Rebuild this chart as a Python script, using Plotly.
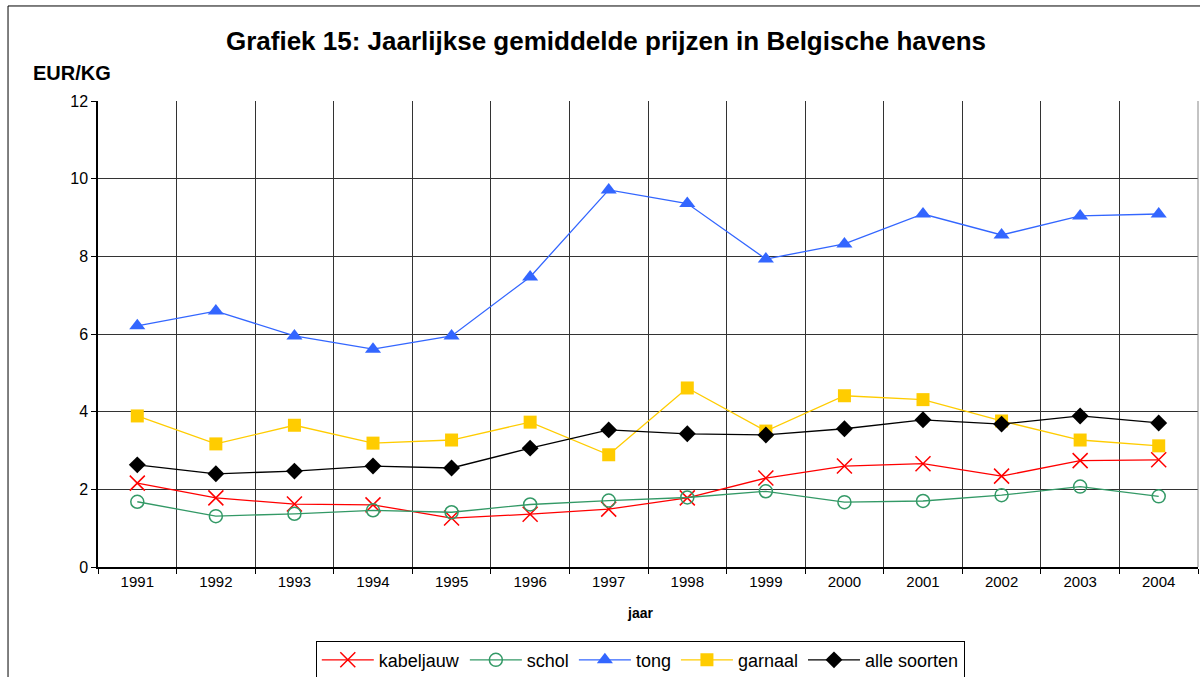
import plotly.graph_objects as go

years = [1991, 1992, 1993, 1994, 1995, 1996, 1997, 1998, 1999, 2000, 2001, 2002, 2003, 2004]
kabeljauw = [2.16, 1.78, 1.62, 1.60, 1.26, 1.36, 1.49, 1.78, 2.29, 2.60, 2.66, 2.34, 2.74, 2.76]
schol = [1.68, 1.31, 1.37, 1.46, 1.41, 1.61, 1.71, 1.79, 1.95, 1.67, 1.70, 1.85, 2.07, 1.82]
tong = [6.21, 6.59, 5.95, 5.61, 5.95, 7.47, 9.71, 9.36, 7.93, 8.32, 9.09, 8.55, 9.04, 9.09]
garnaal = [3.89, 3.17, 3.65, 3.19, 3.27, 3.73, 2.89, 4.61, 3.50, 4.41, 4.31, 3.76, 3.27, 3.12]
alle_soorten = [2.63, 2.40, 2.47, 2.60, 2.55, 3.06, 3.53, 3.43, 3.40, 3.56, 3.79, 3.68, 3.89, 3.71]
year_labels = [str(y) for y in years]

series = [
    ("kabeljauw", kabeljauw, "#FF0000", "x-thin-open", 15, dict(color="#FF0000", width=1.5)),
    ("schol", schol, "#339966", "circle-open", 13, dict(color="#339966", width=1.5)),
    ("tong", tong, "#3366FF", "triangle-up", 14, dict(width=0)),
    ("garnaal", garnaal, "#FFCC00", "square", 13, dict(width=0)),
    ("alle soorten", alle_soorten, "#000000", "diamond", 13, dict(width=0)),
]

fig = go.Figure()
for name, vals, color, sym, size, mline in series:
    fig.add_trace(go.Scatter(
        x=years, y=vals, name=name, mode="lines+markers",
        line=dict(color=color, width=1.3),
        marker=dict(symbol=sym, size=size, color=color, line=mline),
    ))

fig.update_layout(
    width=1200, height=677,
    margin=dict(l=98, r=2, t=101, b=110, autoexpand=False),
    paper_bgcolor="white", plot_bgcolor="white",
    font=dict(family="Liberation Sans, Arial, sans-serif", color="black"),
    title=dict(text="<b>Grafiek 15: Jaarlijkse gemiddelde prijzen in Belgische havens</b>",
               x=0.505, xanchor="center", y=0.94, yanchor="middle",
               font=dict(size=26, color="black")),
    showlegend=True,
    legend=dict(orientation="h", x=0.493, xanchor="center", y=-0.158, yanchor="top",
                bordercolor="black", borderwidth=1, bgcolor="white",
                font=dict(size=18, color="black"), itemwidth=52,
                tracegroupgap=0),
    annotations=[
        dict(text="<b>EUR/KG</b>", xref="paper", yref="paper", x=-0.0605, y=1.06,
             xanchor="left", yanchor="middle", showarrow=False, font=dict(size=20)),
        dict(text="<b>jaar</b>", xref="paper", yref="paper", x=0.493, y=-0.098,
             xanchor="center", yanchor="middle", showarrow=False, font=dict(size=14)),
    ],
    shapes=[
        dict(type="rect", xref="paper", yref="paper", x0=-0.0818, x1=1.1, y0=-0.3, y1=1.2039,
             line=dict(color="black", width=1), fillcolor="rgba(0,0,0,0)", layer="below"),
        dict(type="line", xref="paper", yref="paper", x0=1, x1=1, y0=0, y1=1,
             line=dict(color="#888888", width=1)),
    ],
)

fig.update_xaxes(
    range=[1990.5, 2004.5], tickvals=years, ticktext=year_labels, ticks="",
    showgrid=False, zeroline=False, showline=True, linecolor="black", linewidth=1.5,
    tickfont=dict(size=15), fixedrange=True,
    minor=dict(tick0=1990.5, dtick=1, showgrid=True, gridcolor="#333333", gridwidth=1,
               ticks="outside", ticklen=5, tickcolor="black"),
)
fig.update_yaxes(
    range=[0, 12], tickvals=[0, 2, 4, 6, 8, 10, 12], ticks="outside", ticklen=5,
    tickcolor="black", showgrid=True, gridcolor="#333333", gridwidth=1,
    zeroline=False, showline=True, linecolor="black", linewidth=1.5,
    tickfont=dict(size=16), fixedrange=True,
)

fig.write_html("out.html", config={"displayModeBar": False},
               post_script="document.body.style.margin='0';document.body.style.overflow='hidden';")
